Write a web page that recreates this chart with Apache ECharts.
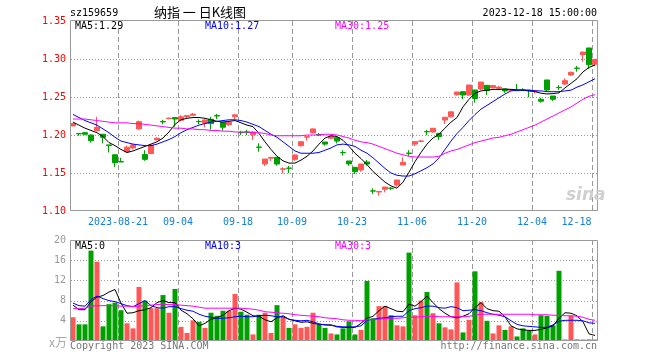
<!DOCTYPE html>
<html><head><meta charset="utf-8">
<script src="https://cdn.jsdelivr.net/npm/echarts@6/dist/echarts.min.js"></script>
<style>html,body{margin:0;padding:0;background:#fff}#c{width:660px;height:360px;background:#fff}</style>
</head><body><div id="c"></div><script>
const dates = ['2023-08-09','2023-08-10','2023-08-11','2023-08-14','2023-08-15','2023-08-16','2023-08-17','2023-08-18','2023-08-21','2023-08-22','2023-08-23','2023-08-24','2023-08-25','2023-08-28','2023-08-29','2023-08-30','2023-08-31',
'2023-09-01','2023-09-04','2023-09-05','2023-09-06','2023-09-07','2023-09-08','2023-09-11','2023-09-12','2023-09-13','2023-09-14','2023-09-15','2023-09-18','2023-09-19','2023-09-20','2023-09-21','2023-09-22','2023-09-25','2023-09-26','2023-09-27','2023-09-28',
'2023-10-09','2023-10-10','2023-10-11','2023-10-12','2023-10-13','2023-10-16','2023-10-17','2023-10-18','2023-10-19','2023-10-20','2023-10-23','2023-10-24','2023-10-25','2023-10-26','2023-10-27','2023-10-30','2023-10-31',
'2023-11-01','2023-11-02','2023-11-03','2023-11-06','2023-11-07','2023-11-08','2023-11-09','2023-11-10','2023-11-13','2023-11-14','2023-11-15','2023-11-16','2023-11-17','2023-11-20','2023-11-21','2023-11-22','2023-11-23','2023-11-24','2023-11-27','2023-11-28','2023-11-29','2023-11-30',
'2023-12-01','2023-12-04','2023-12-05','2023-12-06','2023-12-07','2023-12-08','2023-12-11','2023-12-12','2023-12-13','2023-12-14','2023-12-15','2023-12-18'];
const tickDates = ['2023-08-21','2023-09-04','2023-09-18','2023-10-09','2023-10-23','2023-11-06','2023-11-20','2023-12-04','2023-12-18'];

const openP  = [1.212,1.202,1.203,1.200,1.2057,1.201,1.187,1.174,1.165,1.178,1.183,1.208,1.1745,1.1755,1.1935,1.2178,1.2215,1.223,1.2195,1.224,1.226,1.2178,1.2155,1.2207,1.2255,1.2167,1.2136,1.224,1.2033,1.204,1.2003,1.1842,1.1618,1.1695,1.1706,1.1550,1.1565,1.168,1.186,1.1972,1.203,1.2005,1.1908,1.1957,1.1965,1.177,1.1658,1.1575,1.154,1.1645,1.1265,1.1250,1.1286,1.130,1.1342,1.1605,1.1762,1.188,1.1915,1.2045,1.204,1.2022,1.2197,1.224,1.253,1.257,1.2526,1.2592,1.2605,1.2654,1.262,1.2615,1.2605,1.2588,1.2588,1.2595,1.2590,1.2578,1.2470,1.2724,1.2513,1.2627,1.2671,1.279,1.288,1.3057,1.3145,1.2931];
const closeP = [1.215,1.2015,1.201,1.1925,1.2100,1.197,1.186,1.1635,1.1645,1.184,1.187,1.2175,1.168,1.1865,1.1957,1.2172,1.2222,1.221,1.224,1.2255,1.2275,1.2175,1.2197,1.215,1.225,1.2102,1.2167,1.2265,1.203,1.2035,1.204,1.1838,1.1684,1.1706,1.1618,1.1555,1.1562,1.1737,1.1912,1.1978,1.208,1.200,1.188,1.1985,1.192,1.1767,1.162,1.1517,1.1618,1.1618,1.1262,1.1258,1.1315,1.1298,1.1408,1.164,1.1758,1.1912,1.1922,1.2042,1.2088,1.1978,1.2233,1.2305,1.2565,1.2526,1.2658,1.248,1.2697,1.2583,1.265,1.2630,1.2580,1.2595,1.2583,1.259,1.2583,1.2583,1.2445,1.2592,1.2470,1.2623,1.2715,1.2825,1.2877,1.3092,1.2925,1.2996];
const lowP   = [1.2115,1.199,1.200,1.190,1.205,1.189,1.177,1.158,1.1645,1.177,1.181,1.207,1.166,1.175,1.193,1.214,1.221,1.211,1.219,1.222,1.2255,1.214,1.210,1.207,1.221,1.2057,1.212,1.2205,1.200,1.200,1.1935,1.178,1.1592,1.1658,1.1596,1.1497,1.1497,1.166,1.1847,1.1925,1.202,1.1985,1.186,1.195,1.189,1.1728,1.1596,1.1487,1.1517,1.1596,1.1224,1.120,1.1245,1.1275,1.132,1.1605,1.1724,1.1856,1.191,1.200,1.203,1.1934,1.2144,1.223,1.2518,1.247,1.2515,1.2425,1.259,1.2526,1.2615,1.2595,1.2555,1.2580,1.2583,1.258,1.2496,1.2545,1.2425,1.257,1.2448,1.2592,1.2658,1.278,1.2833,1.2965,1.2868,1.2912];
const highP  = [1.216,1.202,1.204,1.2005,1.224,1.201,1.187,1.174,1.170,1.186,1.188,1.219,1.180,1.188,1.197,1.220,1.223,1.2235,1.226,1.226,1.229,1.2205,1.221,1.224,1.2276,1.2167,1.217,1.227,1.2055,1.207,1.205,1.189,1.1684,1.171,1.171,1.1575,1.1592,1.1745,1.1915,1.198,1.2085,1.2025,1.1908,1.199,1.1965,1.180,1.1658,1.1575,1.1618,1.167,1.1298,1.1260,1.1316,1.1315,1.1408,1.1707,1.180,1.1912,1.1935,1.2066,1.2088,1.2022,1.2233,1.2307,1.257,1.257,1.2658,1.2592,1.2697,1.2654,1.266,1.2645,1.2605,1.2600,1.2671,1.2615,1.2590,1.259,1.249,1.2724,1.2513,1.2658,1.2745,1.2835,1.2908,1.3092,1.3145,1.2996];

const ma5  = [1.217,1.213,1.209,1.206,1.203,1.198,1.190,1.186,1.181,1.177,1.179,1.182,1.185,1.188,1.191,1.196,1.204,1.214,1.220,1.222,1.223,1.223,1.222,1.220,1.218,1.217,1.218,1.219,1.216,1.213,1.211,1.202,1.191,1.181,1.172,1.166,1.163,1.163,1.167,1.172,1.179,1.188,1.196,1.199,1.198,1.193,1.185,1.176,1.169,1.161,1.152,1.145,1.138,1.133,1.130,1.138,1.151,1.165,1.177,1.188,1.196,1.201,1.209,1.217,1.223,1.237,1.247,1.255,1.258,1.259,1.260,1.260,1.2605,1.260,1.2595,1.259,1.258,1.257,1.255,1.254,1.2545,1.2555,1.262,1.268,1.274,1.283,1.289,1.292];
const ma10 = [1.227,1.223,1.219,1.216,1.213,1.208,1.203,1.197,1.192,1.190,1.188,1.187,1.186,1.186,1.188,1.191,1.194,1.198,1.203,1.207,1.210,1.213,1.215,1.217,1.218,1.219,1.220,1.220,1.219,1.217,1.214,1.211,1.206,1.201,1.197,1.191,1.185,1.179,1.176,1.176,1.176,1.177,1.180,1.183,1.187,1.188,1.187,1.185,1.180,1.176,1.170,1.163,1.156,1.150,1.147,1.146,1.146,1.149,1.153,1.157,1.162,1.170,1.181,1.192,1.202,1.210,1.219,1.227,1.234,1.239,1.244,1.249,1.254,1.258,1.259,1.259,1.259,1.258,1.258,1.257,1.257,1.257,1.258,1.259,1.263,1.266,1.270,1.274];
const ma30 = [1.221,1.221,1.221,1.220,1.219,1.218,1.217,1.216,1.216,1.216,1.215,1.215,1.214,1.213,1.212,1.211,1.210,1.209,1.209,1.208,1.208,1.207,1.207,1.206,1.206,1.205,1.205,1.204,1.204,1.204,1.203,1.203,1.202,1.200,1.199,1.199,1.199,1.199,1.199,1.200,1.200,1.200,1.201,1.201,1.200,1.198,1.196,1.193,1.191,1.190,1.188,1.185,1.182,1.179,1.176,1.174,1.172,1.171,1.171,1.171,1.171,1.172,1.176,1.179,1.181,1.184,1.187,1.190,1.192,1.194,1.196,1.197,1.199,1.201,1.204,1.207,1.210,1.213,1.217,1.221,1.225,1.229,1.233,1.237,1.242,1.247,1.251,1.253];

const volume = [4.7,3.3,3.3,17.9,15.7,2.9,7.3,7.6,6.1,3.5,2.5,10.7,8.0,6.5,6.5,9.1,5.6,10.3,2.8,1.6,4.1,3.8,2.6,5.6,5.0,6.0,6.0,9.3,5.8,5.2,1.3,5.2,5.6,1.6,7.1,4.8,2.6,3.3,2.6,2.8,5.6,3.3,2.6,1.5,1.3,2.5,3.9,1.3,2.2,11.9,4.5,6.9,6.9,5.1,3.1,2.9,17.5,5.1,8.0,9.7,5.5,3.5,2.7,2.3,11.6,1.7,4.2,13.8,7.7,4.0,1.5,3.1,2.2,2.9,0.9,2.5,2.0,1.3,5.1,5.0,3.1,13.9,0.3,5.0,0.3,0.3,0.3,0.3];
const vma5  = [7.1,6.2,6.2,7.8,8.7,9.0,9.7,10.2,7.5,5.5,5.6,6.0,6.2,6.6,7.6,8.0,7.6,7.6,6.1,5.4,4.4,3.0,3.5,4.3,4.6,5.1,6.0,6.5,6.3,5.7,5.0,4.9,4.2,3.8,4.6,5.0,4.3,4.0,3.7,3.8,3.5,3.3,3.2,3.2,2.8,2.7,2.7,2.7,3.5,4.5,4.9,6.0,6.9,6.4,5.9,5.8,7.3,6.9,7.8,8.9,7.6,6.4,5.5,4.8,4.6,4.9,5.4,6.6,7.6,6.4,6.0,5.9,4.8,3.0,2.4,2.2,2.1,2.1,2.3,2.6,3.0,4.5,5.6,5.5,5.0,3.8,1.4,1.1];
const vma10 = [7.5,7.0,6.9,8.2,8.9,8.4,8.0,7.8,7.4,7.0,6.8,7.4,8.0,7.0,6.6,6.5,6.8,6.8,6.4,6.1,5.9,5.3,4.9,4.7,4.5,4.5,4.6,4.8,4.9,4.8,4.8,5.0,5.1,5.0,4.8,4.8,4.3,4.1,4.0,4.1,3.8,3.4,3.2,3.1,2.9,2.8,2.8,2.8,3.0,4.1,4.3,4.5,4.6,4.8,4.9,4.9,6.0,6.4,6.6,6.9,6.9,6.6,6.5,6.8,6.6,6.0,6.1,6.2,6.0,5.6,5.3,5.1,4.8,4.0,3.3,3.0,2.9,2.8,2.7,2.7,3.2,3.9,4.1,4.1,4.1,4.0,3.6,3.5];
const vma30 = [6.4,6.4,6.5,6.9,7.0,7.0,7.0,7.0,6.9,6.9,6.8,6.9,7.0,7.1,7.2,7.3,7.2,7.2,7.1,7.0,6.9,6.7,6.5,6.5,6.5,6.5,6.5,6.5,6.5,6.4,6.3,6.1,5.8,5.7,5.6,5.5,5.4,5.2,5.1,5.0,4.9,4.8,4.6,4.5,4.4,4.2,4.1,4.1,4.0,4.2,4.3,4.3,4.4,4.5,4.5,4.6,4.7,4.7,4.8,4.9,4.9,4.8,4.8,4.8,4.8,4.8,4.9,5.1,5.3,5.3,5.3,5.3,5.3,5.3,5.3,5.3,5.3,5.2,5.2,5.2,5.1,5.1,5.0,5.0,4.9,4.7,4.3,4.1];

const priceTicks = [1.10,1.15,1.20,1.25,1.30,1.35];
const volTicks = [0,4,8,12,16,20];
const priceMaLabels = ['MA5:1.29','MA10:1.27','MA30:1.25'];
const volMaLabels = ['MA5:0','MA10:3','MA30:3'];

const RED = '#ff5656', GREEN = '#00a000', GRID = '#999999';
const MONO = 'DejaVu Sans Mono';
const tickSet = new Set(tickDates);
const lastDate = dates[dates.length - 1];

const chart = echarts.init(document.getElementById('c'), null, {renderer: 'canvas'});
const candles = dates.map((d, i) => [openP[i], closeP[i], lowP[i], highP[i]]);
const volBars = dates.map((d, i) => ({value: volume[i], itemStyle: {color: closeP[i] >= openP[i] ? RED : GREEN}}));

function lineSeries(data, color, xi, yi) {
  return {type: 'line', data, xAxisIndex: xi, yAxisIndex: yi, symbol: 'none', showSymbol: false,
          lineStyle: {color, width: 1}, itemStyle: {color}, silent: true, z: 96};
}
function txt(text, x, y, fill, align, font) {
  return {type: 'text', x, y, silent: true, z: 100,
          style: {text, fill, align: align || 'left', verticalAlign: 'middle', font: font || ('10px ' + MONO)}};
}
function frame(x, y, w, h) {
  return {type: 'rect', silent: true, z: 97, shape: {x: x + 0.5, y: y + 0.5, width: w, height: h},
          style: {fill: null, stroke: '#999', lineWidth: 1}};
}
function seg(x1, y1, x2, y2) {
  return {type: 'line', silent: true, z: 90, shape: {x1, y1, x2, y2},
          style: {stroke: GRID, lineWidth: 1, fill: null}};
}

chart.setOption({
  animation: false,
  grid: [
    {left: 70, top: 21, width: 528, height: 190, show: false},
    {left: 70, top: 240, width: 528, height: 101, show: false}
  ],
  xAxis: [
    {type: 'category', gridIndex: 0, data: dates, boundaryGap: true,
     axisLine: {show: false}, axisTick: {show: false}, splitLine: {show: false},
     axisLabel: {show: true, interval: (idx, val) => tickSet.has(val), color: '#1580d8', fontFamily: MONO, fontSize: 10, margin: 6,
       formatter: (val) => {
         const s = val === tickDates[0] ? val : val.slice(5);
         return val === lastDate ? '{e|' + s + '}' : '{a|' + s + '}';
       },
       rich: {a: {color: '#1580d8', fontFamily: MONO, fontSize: 10, padding: [0, 6, 0, 0]},
              e: {color: '#1580d8', fontFamily: MONO, fontSize: 10, padding: [0, 37, 0, 0]}}}},
    {type: 'category', gridIndex: 1, data: dates, boundaryGap: true,
     axisLine: {show: false}, axisTick: {show: false}, axisLabel: {show: false}, splitLine: {show: false}}
  ],
  yAxis: [
    {type: 'value', gridIndex: 0, min: priceTicks[0], max: priceTicks[priceTicks.length - 1], interval: 0.05,
     axisLine: {show: false}, axisTick: {show: false}, splitLine: {show: false},
     axisLabel: {color: '#ff0000', fontFamily: MONO, fontSize: 10, margin: 4, formatter: v => v.toFixed(2)}},
    {type: 'value', gridIndex: 1, min: volTicks[0], max: volTicks[volTicks.length - 1], interval: 4,
     axisLine: {show: false}, axisTick: {show: false}, splitLine: {show: false},
     axisLabel: {color: '#999', fontFamily: MONO, fontSize: 10, margin: 4, formatter: v => v === 0 ? '' : String(v)}}
  ],
  series: [
    {type: 'candlestick', data: candles, xAxisIndex: 0, yAxisIndex: 0, barWidth: 5, silent: true, z: 95,
     itemStyle: {color: RED, color0: GREEN, borderColor: RED, borderColor0: GREEN, borderWidth: 1}},
    lineSeries(ma5, '#000000', 0, 0),
    lineSeries(ma10, '#0000ff', 0, 0),
    lineSeries(ma30, '#ff00ff', 0, 0),
    {type: 'bar', data: volBars, xAxisIndex: 1, yAxisIndex: 1, barWidth: 5, silent: true, z: 95},
    lineSeries(vma5, '#000000', 1, 1),
    lineSeries(vma10, '#0000ff', 1, 1),
    lineSeries(vma30, '#ff00ff', 1, 1)
  ]
});

// Grid lines: positions from the chart's own axes (convertToPixel), drawn as short stroked segments.
function num(v) { return Array.isArray(v) ? v[0] : +v; }
const gridMarks = [];
function addPanelGrid(xi, yi, ticks) {
  const c0 = num(chart.convertToPixel({xAxisIndex: xi}, dates[0]));
  const c1 = num(chart.convertToPixel({xAxisIndex: xi}, dates[1]));
  const band = (isFinite(c1 - c0) && c1 - c0 > 0) ? (c1 - c0) : 6;
  const yb = Math.round(num(chart.convertToPixel({yAxisIndex: yi}, ticks[0])));
  const yt = Math.round(num(chart.convertToPixel({yAxisIndex: yi}, ticks[ticks.length - 1])));
  const xl = Math.round(c0 - band / 2);
  const xr = Math.round(num(chart.convertToPixel({xAxisIndex: xi}, lastDate)) + band / 2);
  if (![yb, yt, xl, xr].every(isFinite)) return;
  ticks.slice(1, -1).forEach(v => {
    const y = Math.round(num(chart.convertToPixel({yAxisIndex: yi}, v))) + 0.5;
    for (let x = xl + 1; x < xr; x += 3) gridMarks.push(seg(x, y, x + 1, y));
  });
  tickDates.forEach(d => {
    const x = Math.round(num(chart.convertToPixel({xAxisIndex: xi}, d)) - band / 2) + 0.5;
    for (let y = yt; y < yb; y += 8) gridMarks.push(seg(x, y, x, Math.min(y + 5, yb)));
  });
}
addPanelGrid(0, 0, priceTicks);
addPanelGrid(1, 1, volTicks);

chart.setOption({
  graphic: [
    frame(70, 20, 527, 190),
    frame(70, 240, 527, 100),
    txt('sz159659', 70, 13, '#000'),
    txt('纳指 一 日K线图', 200, 12.5, '#000', 'center', '13px "Noto Sans CJK SC"'),
    txt('2023-12-18 15:00:00', 597, 13, '#000', 'right'),
    txt(priceMaLabels[0], 75, 26.5, '#000'),
    txt(priceMaLabels[1], 205, 26.5, '#0000ff'),
    txt(priceMaLabels[2], 335, 26.5, '#ff00ff'),
    txt(volMaLabels[0], 75, 246.5, '#000'),
    txt(volMaLabels[1], 205, 246.5, '#0000ff'),
    txt(volMaLabels[2], 335, 246.5, '#ff00ff'),
    txt('x万', 49, 342, '#aaa', 'left', '12px "Noto Sans CJK SC"'),
    txt('Copyright 2023 SINA.COM', 70, 346, '#777'),
    txt('http://finance.sina.com.cn', 597, 346, '#777', 'right'),
    txt('sina', 566, 196, '#d0d0d0', 'left', 'italic bold 17px "DejaVu Sans"')
  ].concat(gridMarks)
});
</script></body></html>
